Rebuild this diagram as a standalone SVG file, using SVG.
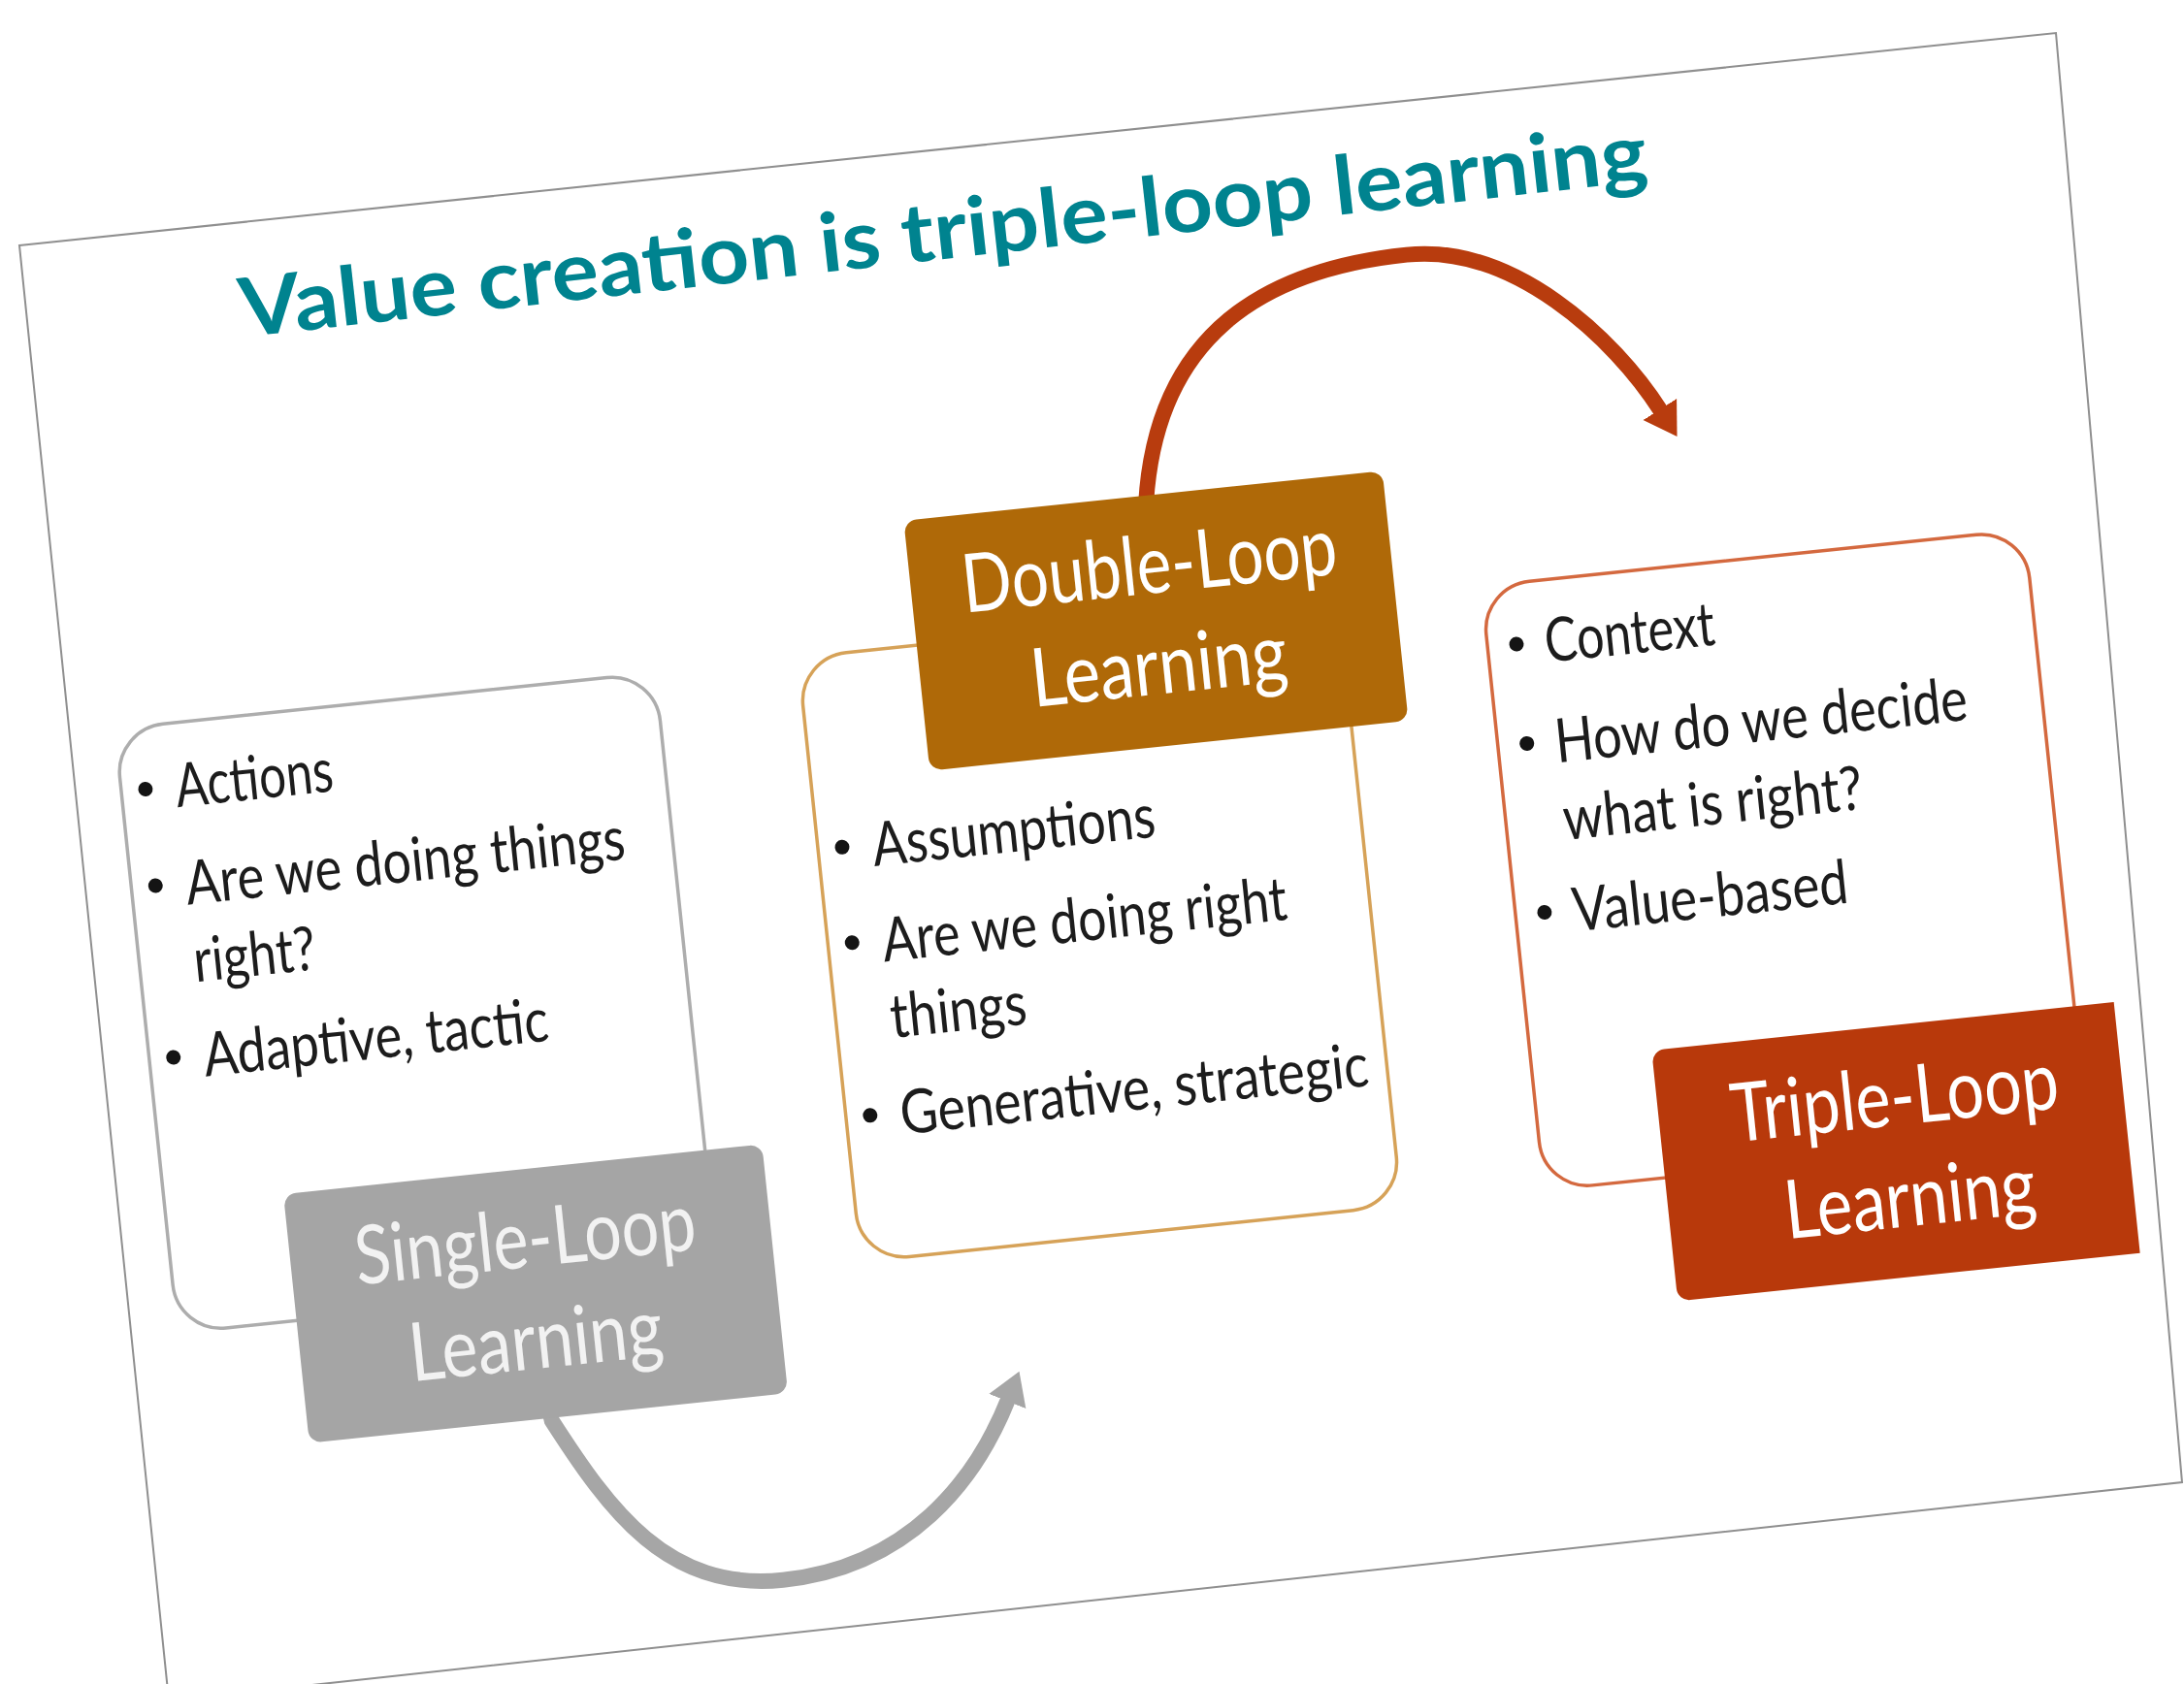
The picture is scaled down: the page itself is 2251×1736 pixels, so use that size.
<svg xmlns="http://www.w3.org/2000/svg" width="2251" height="1736" viewBox="0 0 2251 1736">
  <defs>
    <style>
      .frame { fill: #ffffff; stroke: #8f8f8f; stroke-width: 2; }
      .title { font-family: Lato, "Liberation Sans", sans-serif; font-weight: 700; font-size: 84px; fill: #00838f; }
      .box { fill: #ffffff; stroke-width: 3.5; }
      .item { font-family: Lato, "Liberation Sans", sans-serif; font-size: 63px; fill: #1c1c1c; }
      .dot { fill: #141414; }
      .label { font-family: Lato, "Liberation Sans", sans-serif; font-size: 84px; text-anchor: middle; }
      .arc { fill: none; stroke-width: 16; stroke-linecap: butt; }
    </style>
    <marker id="head-gray" markerUnits="userSpaceOnUse" viewBox="0 -21 34 42" markerWidth="34" markerHeight="42" refX="2" refY="0" orient="auto">
      <path d="M0,-20.5 L33,0 L0,20.5 Z" fill="#a6a6a6"/>
    </marker>
    <marker id="head-red" markerUnits="userSpaceOnUse" viewBox="0 -21 34 42" markerWidth="34" markerHeight="42" refX="2" refY="0" orient="auto">
      <path d="M0,-20.5 L33,0 L0,20.5 Z" fill="#b83c0e"/>
    </marker>
  </defs>

  <rect width="2251" height="1736" fill="#ffffff"/>

  <!-- tilted slide sheet -->
  <polygon class="frame" points="20,253 2119,34 2249,1528 174,1753"/>

  <!-- slide content, drawn in the slide's own frame -->
  <g id="slide" transform="translate(20,253) rotate(-5.96)">
    <text id="title" class="title" x="219" y="118" textLength="1459" lengthAdjust="spacingAndGlyphs" transform="rotate(-0.4 219 118)">Value creation is triple-loop learning</text>

    <g id="connectors">
      <path id="single-to-double" class="arc" stroke="#a6a6a6" marker-end="url(#head-gray)"
            d="M418,1246 L420,1262 C469.5,1360 520,1450 640,1450 C770,1450 848,1369 890,1289"/>
      <path id="double-to-triple" class="arc" stroke="#b83c0e" marker-end="url(#head-red)"
            d="M1126,392 L1130,370 C1160,223 1261,158 1421,158 C1531,158 1624.8,265 1665,345.5"/>
    </g>

    <g id="single-loop">
      <rect class="box" x="46" y="506" width="560" height="626" rx="50" stroke="#adadad"/>
      <circle class="dot" cx="71" cy="571" r="7.5"/>
      <text class="item" x="102" y="593" textLength="163" lengthAdjust="spacingAndGlyphs">Actions</text>
      <circle class="dot" cx="71" cy="671" r="7.5"/>
      <text class="item" x="102" y="694" textLength="455" lengthAdjust="spacingAndGlyphs">Are we doing things</text>
      <text class="item" x="102" y="774" textLength="126" lengthAdjust="spacingAndGlyphs">right?</text>
      <circle class="dot" cx="71" cy="849" r="7.5"/>
      <text class="item" x="102" y="872" textLength="357" lengthAdjust="spacingAndGlyphs">Adaptive, tactic</text>
      <rect x="169" y="1001" width="496" height="258" rx="13" fill="#a5a5a5"/>
      <text class="label" x="412" y="1102" fill="#f2f2f2" textLength="353" lengthAdjust="spacingAndGlyphs">Single-Loop</text>
      <text class="label" x="412" y="1207" fill="#f2f2f2" textLength="262" lengthAdjust="spacingAndGlyphs">Learning</text>
    </g>

    <g id="double-loop">
      <rect class="box" x="754" y="506" width="560" height="626" rx="50" stroke="#d6a258"/>
      <circle class="dot" cx="779" cy="705" r="7.5"/>
      <text class="item" x="810" y="728" textLength="293" lengthAdjust="spacingAndGlyphs">Assumptions</text>
      <circle class="dot" cx="779" cy="804" r="7.5"/>
      <text class="item" x="810" y="827" textLength="419" lengthAdjust="spacingAndGlyphs">Are we doing right</text>
      <text class="item" x="810" y="906" textLength="141" lengthAdjust="spacingAndGlyphs">things</text>
      <circle class="dot" cx="779" cy="983" r="7.5"/>
      <text class="item" x="810" y="1006" textLength="485" lengthAdjust="spacingAndGlyphs">Generative, strategic</text>
      <rect x="877" y="377" width="496" height="259" rx="13" fill="#af6908"/>
      <text class="label" x="1124" y="478" fill="#ffffff" textLength="388" lengthAdjust="spacingAndGlyphs">Double-Loop</text>
      <text class="label" x="1123" y="582" fill="#ffffff" textLength="265" lengthAdjust="spacingAndGlyphs">Learning</text>
    </g>

    <g id="triple-loop">
      <rect class="box" x="1462" y="506" width="563" height="626" rx="50" stroke="#d4693f"/>
      <circle class="dot" cx="1492" cy="569" r="7.5"/>
      <text class="item" x="1521" y="591" textLength="176" lengthAdjust="spacingAndGlyphs">Context</text>
      <circle class="dot" cx="1492" cy="672" r="7.5"/>
      <text class="item" x="1521" y="695" textLength="427" lengthAdjust="spacingAndGlyphs">How do we decide</text>
      <text class="item" x="1521" y="775" textLength="310" lengthAdjust="spacingAndGlyphs">what is right?</text>
      <circle class="dot" cx="1492" cy="847" r="7.5"/>
      <text class="item" x="1521" y="870" textLength="285" lengthAdjust="spacingAndGlyphs">Value-based</text>
      <path d="M1600,1000 H2066 V1260 H1600 A13,13 0 0 1 1587,1247 V1013 A13,13 0 0 1 1600,1000 Z" fill="#b8390b"/>
      <text class="label" x="1831" y="1103" fill="#ffffff" textLength="339" lengthAdjust="spacingAndGlyphs">Triple-Loop</text>
      <text class="label" x="1836" y="1208" fill="#ffffff" textLength="260" lengthAdjust="spacingAndGlyphs">Learning</text>
    </g>
  </g>
</svg>
